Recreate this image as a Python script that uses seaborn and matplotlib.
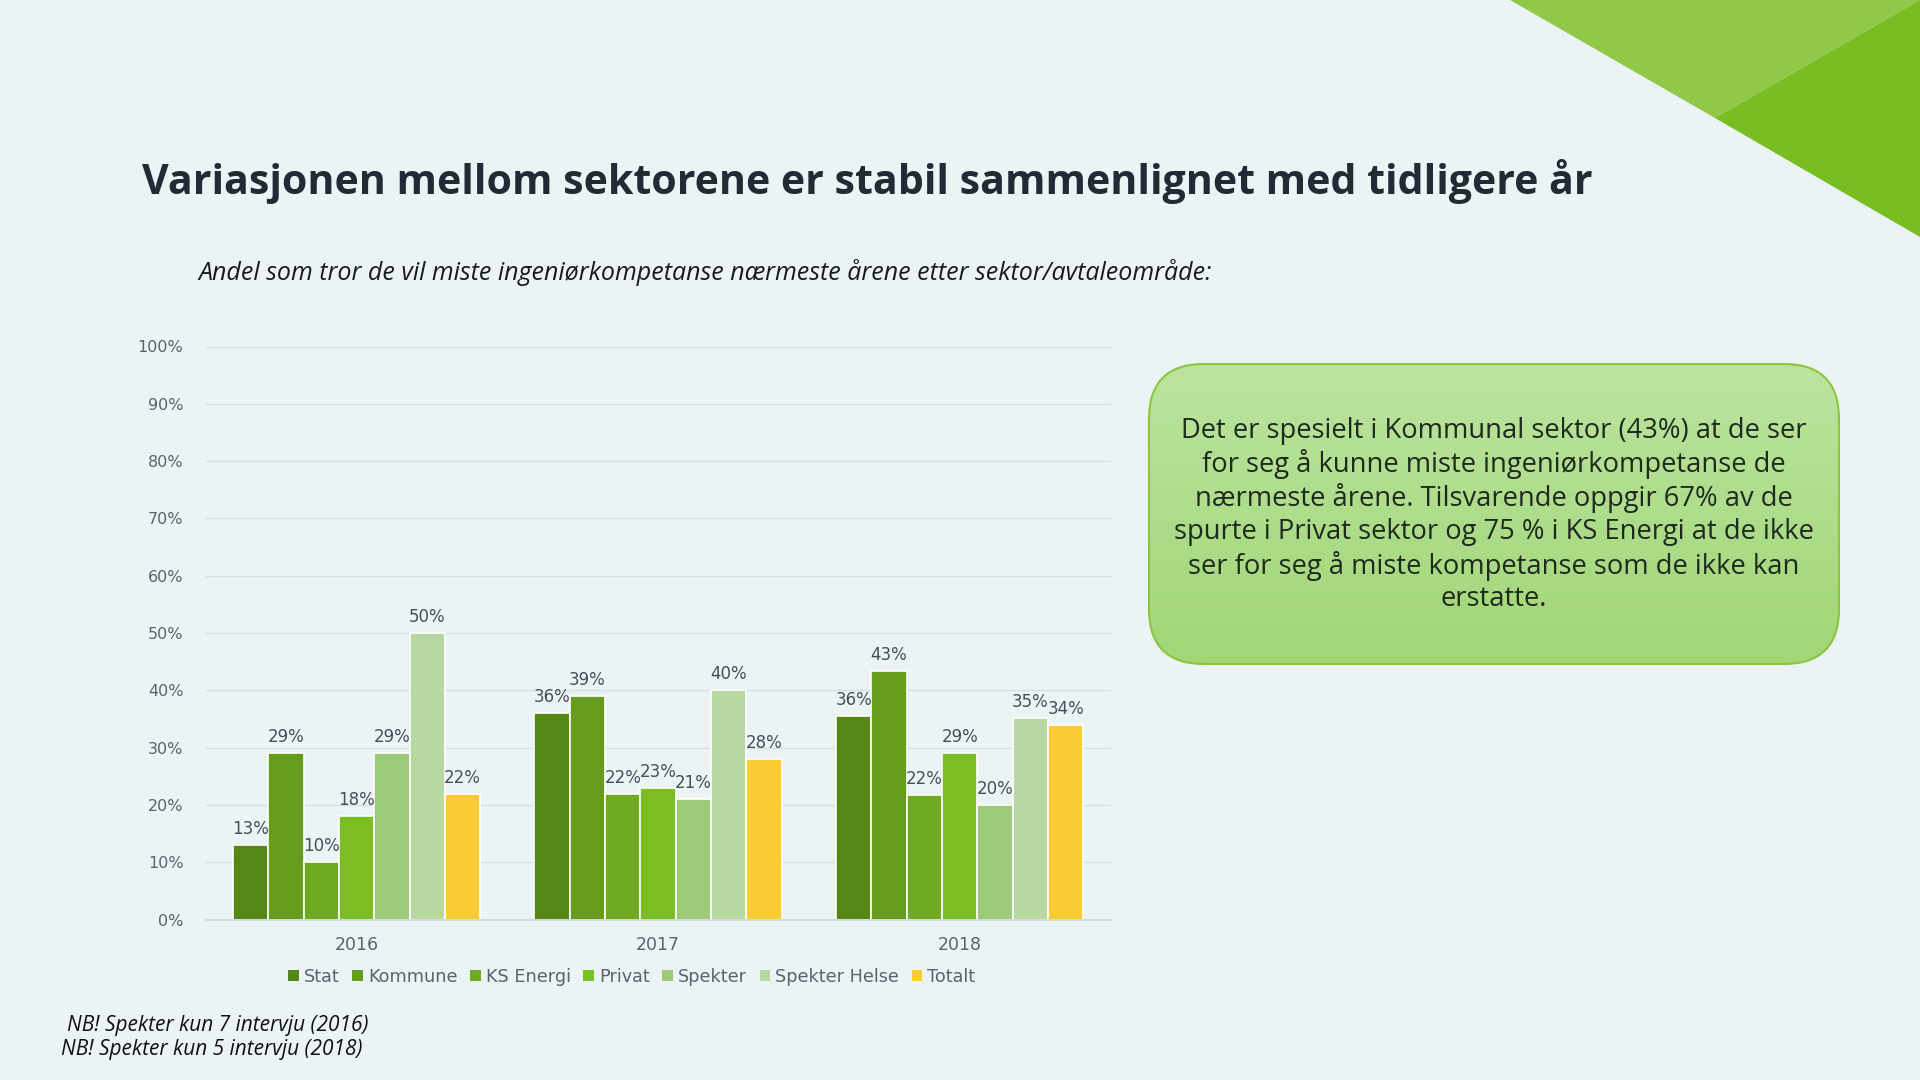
import numpy as np
import pandas as pd
import matplotlib
matplotlib.use("Agg")
import matplotlib.pyplot as plt
import seaborn as sns
from matplotlib.patches import FancyBboxPatch, Polygon, Patch

# ---------------- data ----------------
years = ["2016", "2017", "2018"]
sectors = ["Stat", "Kommune", "KS Energi", "Privat", "Spekter", "Spekter Helse", "Totalt"]
stat = [13, 36, 35.6]
kommune = [29, 39, 43.4]
ks_energi = [10, 22, 21.7]
privat = [18, 23, 29]
spekter = [29, 21, 20]
spekter_helse = [50, 40, 35.2]
totalt = [22, 28, 34]
y_ticks = [0, 10, 20, 30, 40, 50, 60, 70, 80, 90, 100]
y_tick_labels = ["0%", "10%", "20%", "30%", "40%", "50%", "60%", "70%", "80%", "90%", "100%"]

colors = ["#558716", "#669c1d", "#6eab1f", "#7bbd22", "#9cca78", "#b8d8a3", "#fbcb35"]

title = "Variasjonen mellom sektorene er stabil sammenlignet med tidligere år"
subtitle = "Andel som tror de vil miste ingeniørkompetanse nærmeste årene etter sektor/avtaleområde:"
box_lines = [
    "Det er spesielt i Kommunal sektor (43%) at de ser",
    "for seg å kunne miste ingeniørkompetanse de",
    "nærmeste årene. Tilsvarende oppgir 67% av de",
    "spurte i Privat sektor og 75 % i KS Energi at de ikke",
    "ser for seg å miste kompetanse som de ikke kan",
    "erstatte.",
]
notes = ["NB! Spekter kun 7 intervju (2016)", "NB! Spekter kun 5 intervju (2018)"]

series = [stat, kommune, ks_energi, privat, spekter, spekter_helse, totalt]
rows = []
for s, vals in zip(sectors, series):
    for y, v in zip(years, vals):
        rows.append({"year": y, "sector": s, "value": v})
df = pd.DataFrame(rows)

# ---------------- figure ----------------
BG = "#ebf3f5"
W, H = 1920, 1080
sns.set_theme(style="white")
plt.rcParams["font.family"] = ["DejaVu Sans"]
fig = plt.figure(figsize=(19.2, 10.8), dpi=100, facecolor=BG)

# overlay axes in pixel coordinates for decorations
ov = fig.add_axes([0, 0, 1, 1])
ov.set_xlim(0, W)
ov.set_ylim(H, 0)
ov.axis("off")
ov.patch.set_visible(False)

# corner triangles
ov.add_patch(Polygon([[1510, 0], [1920, 0], [1715, 118]], closed=True, color="#92c84a", lw=0))
ov.add_patch(Polygon([[1715, 118], [1920, 0], [1920, 237]], closed=True, color="#78bd22", lw=0))

renderer = fig.canvas.get_renderer()


def fit(t, target_w):
    w = t.get_window_extent(renderer).width
    t.set_fontsize(t.get_fontsize() * target_w / w)
    return t.get_fontsize()


t = ov.text(142, 181, title, ha="left", va="center", fontsize=30, fontweight="bold",
            color="#212b35", family=["Open Sans", "DejaVu Sans"])
fit(t, 1450)
t = ov.text(198, 272, subtitle, ha="left", va="center", fontsize=15, fontstyle="italic",
            color="#1a1a1a", family=["Open Sans", "DejaVu Sans"])
fit(t, 1013)
t = ov.text(67, 1025, notes[0], ha="left", va="center", fontsize=12, fontstyle="italic",
            color="#111111", family=["Open Sans", "DejaVu Sans"])
fit(t, 302)
t = ov.text(61, 1049, notes[1], ha="left", va="center", fontsize=12, fontstyle="italic",
            color="#111111", family=["Open Sans", "DejaVu Sans"])
fit(t, 301)

# rounded green box with gradient
bx0, by0, bx1, by1 = 1149, 364, 1839, 664
box = FancyBboxPatch((bx0, by0), bx1 - bx0, by1 - by0,
                     boxstyle="round,pad=0,rounding_size=55",
                     facecolor="none", edgecolor="#8cc63f", lw=1.5, zorder=3)
ov.add_patch(box)
grad = np.linspace(0, 1, 256).reshape(-1, 1)
top = np.array([0xbb, 0xe4, 0xa0]) / 255
bot = np.array([0xa2, 0xd6, 0x76]) / 255
img = top[None, None, :] * (1 - grad[:, :, None]) + bot[None, None, :] * grad[:, :, None]
im = ov.imshow(img, extent=[bx0, bx1, by1, by0], aspect="auto", zorder=2)
im.set_clip_path(box)
ov.set_xlim(0, W)
ov.set_ylim(H, 0)

line_y = [431, 464, 498, 532, 566, 599]
texts = []
for ln, yy in zip(box_lines, line_y):
    texts.append(ov.text(1494, yy, ln, ha="center", va="center", fontsize=18,
                         color="#1e2a1e", zorder=4, family=["Open Sans", "DejaVu Sans"]))
fs = fit(texts[3], 640)
for tt in texts:
    tt.set_fontsize(fs)

# ---------------- chart ----------------
ax = fig.add_axes([205.7 / W, 1 - 919.6 / H, (1110.6 - 205.7) / W, (919.6 - 346.5) / H])
ax.set_facecolor("none")
sns.barplot(data=df, x="year", y="value", hue="sector", order=years, hue_order=sectors,
            palette=colors, width=0.82, edgecolor="white", linewidth=1.2,
            saturation=1, ax=ax, legend=False, errorbar=None)
ax.set_xlim(-0.5, 2.5)
ax.set_ylim(0, 100)
ax.set_yticks(y_ticks)
ax.set_yticklabels(y_tick_labels)
ax.grid(axis="y", color="#d8dfe3", lw=1)
ax.set_axisbelow(True)
for sp in ["top", "right", "left"]:
    ax.spines[sp].set_visible(False)
ax.spines["bottom"].set_color("#d0d8dc")
ax.tick_params(axis="y", length=0, pad=16, labelsize=11.5, labelcolor="#58636e")
ax.tick_params(axis="x", length=0, pad=12, labelsize=12.5, labelcolor="#58636e")
ax.set_xlabel("")
ax.set_ylabel("")

for cont in ax.containers:
    ax.bar_label(cont, fmt="{:.0f}%", padding=5, fontsize=12, color="#444f5a")

handles = [Patch(facecolor=c, edgecolor="none", label=s) for c, s in zip(colors, sectors)]
fig.legend(handles=handles, loc="center", bbox_to_anchor=(632 / W, 1 - 977 / H), ncol=7,
           frameon=False, fontsize=12.7, handlelength=0.6, handleheight=0.6,
           handletextpad=0.3, columnspacing=0.7, labelcolor="#58636e")

fig.savefig("out.png", dpi=100, facecolor=BG)
